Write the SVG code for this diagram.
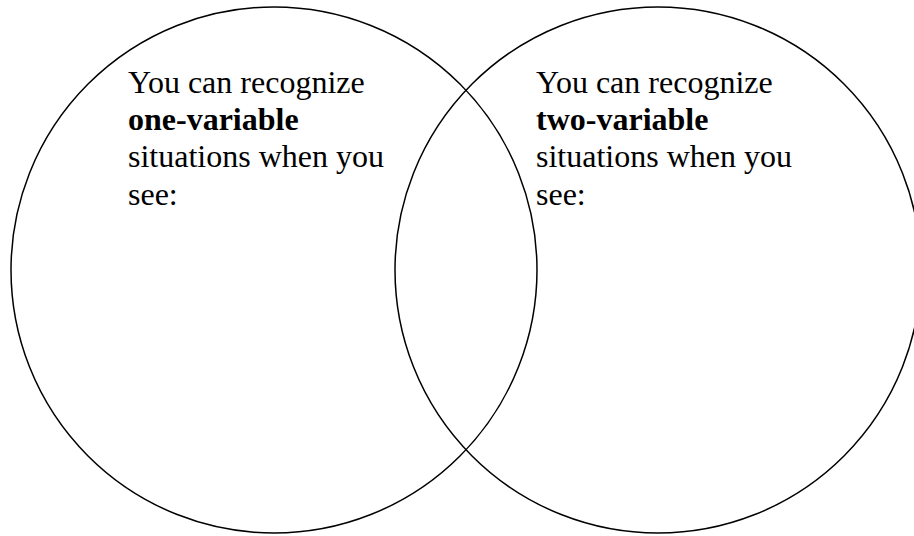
<svg xmlns="http://www.w3.org/2000/svg" width="914" height="536" viewBox="0 0 914 536">
  <style>
    .ring { fill: none; stroke: #000; stroke-width: 1.5; }
    .label { font-family: "Liberation Serif", "Times New Roman", serif; font-size: 32px; fill: #000; }
    .em { font-weight: bold; }
  </style>
  <rect width="914" height="536" fill="#fff"/>
  <g id="one-variable">
    <circle class="ring" cx="274" cy="270" r="263"/>
    <text class="label" x="128" y="93">You can recognize</text>
    <text class="label em" x="128" y="130">one-variable</text>
    <text class="label" x="128" y="167">situations when you</text>
    <text class="label" x="128" y="205">see:</text>
  </g>
  <g id="two-variable">
    <circle class="ring" cx="658" cy="270" r="263"/>
    <text class="label" x="536" y="93">You can recognize</text>
    <text class="label em" x="536" y="130">two-variable</text>
    <text class="label" x="536" y="167">situations when you</text>
    <text class="label" x="536" y="205">see:</text>
  </g>
  <g id="connectors"/>
</svg>
